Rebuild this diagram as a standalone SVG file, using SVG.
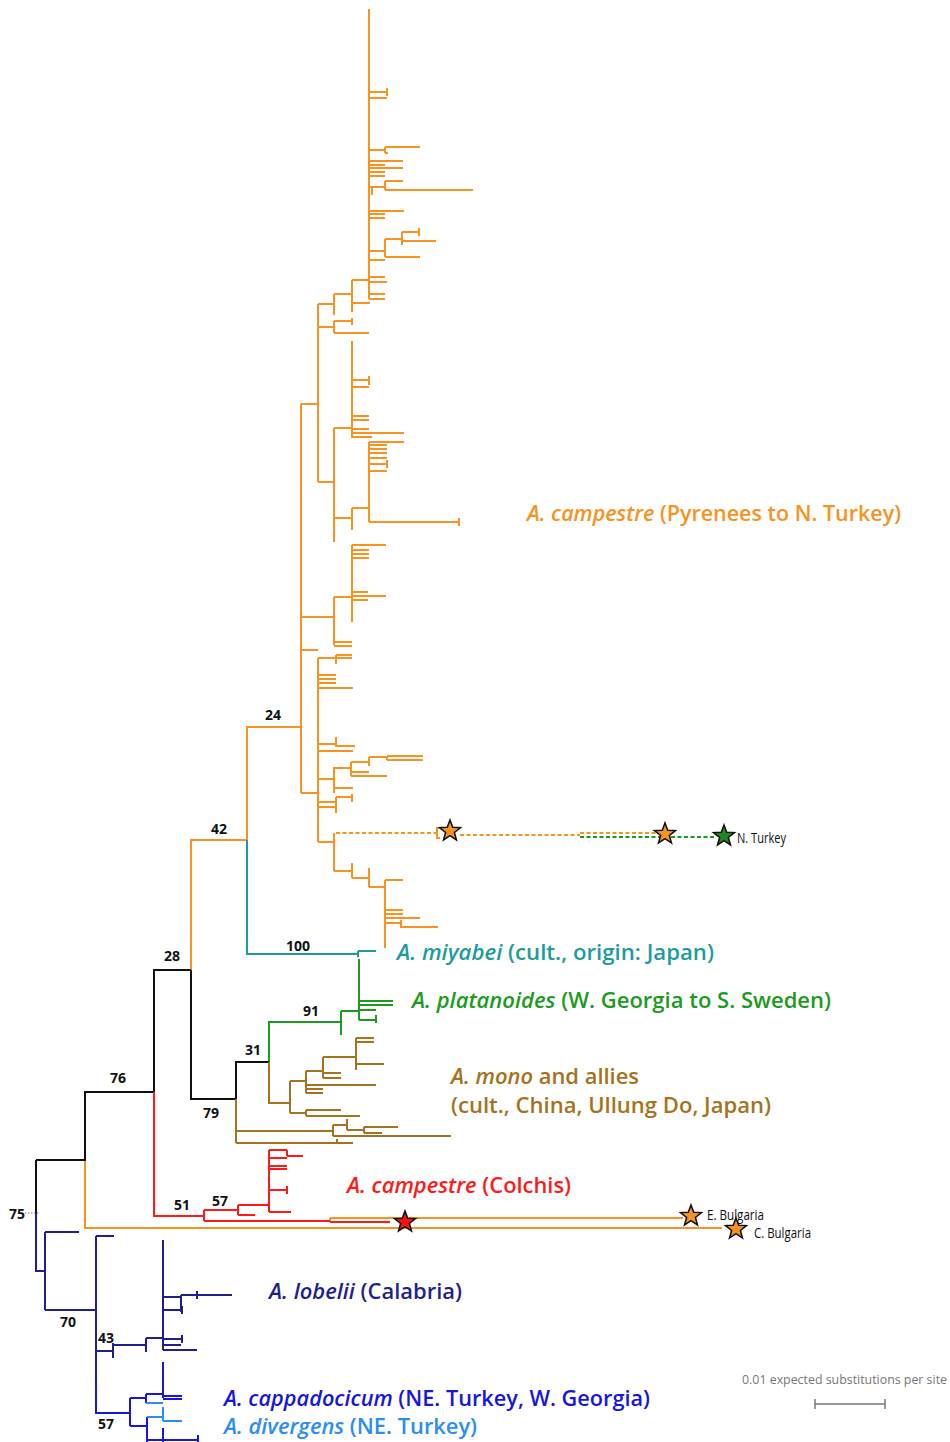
<svg xmlns="http://www.w3.org/2000/svg" xmlns:xlink="http://www.w3.org/1999/xlink" width="950" height="1442" viewBox="0 0 950 1442">
<style>
.br{fill:none;stroke-width:2;stroke-linecap:butt;stroke-linejoin:miter}
.o{stroke:#F7931E}.t{stroke:#1E9C9C}.g{stroke:#1E9A1E}.k{stroke:#111}.b{stroke:#A57320}.r{stroke:#FF1A1A}.n{stroke:#1F1F8E}.bl{stroke:#1616E0}.lb{stroke:#2A8EF2}
.dash{stroke-dasharray:4 2.5}
.lab{font-family:"Open Sans","Liberation Sans",sans-serif;font-weight:600;font-size:22px}
.num{font-family:"Open Sans","Liberation Sans",sans-serif;font-weight:700;font-size:14px;fill:#111;text-anchor:middle}
.sm{font-family:"Open Sans","Liberation Sans",sans-serif;font-size:14px;fill:#111}
.star{stroke:#111;stroke-width:1.4;stroke-linejoin:miter}
</style>
<defs>
<path id="star" d="M0,-10 L2.47,-3.4 L9.51,-3.09 L3.99,1.3 L5.88,8.09 L0,4.2 L-5.88,8.09 L-3.99,1.3 L-9.51,-3.09 L-2.47,-3.4 Z"/>
</defs>
<g id="connectors">
<path class="br o" d="M85,1160 V1228 H722 M330,1218 H683 M330,1218 V1222 M191,970 V840 H247 V727 H301 M301,404 V793 M301,404 H318 M318,304 V482 M318,304 H334 M334,294 V315 M334,294 H352 M352,280 V312 M352,280 H369 M352,303 H370 M369,9 V299 M369,92 H387 M387,88 V96 M369,98 H387 M369,150 H385 M385,147 V153 M385,147 H420 M385,153 H388 M369,161 H403 M369,165 H385 M369,168 H403 M369,172 H385 M369,176 H385 M369,187 H385 M372,187 V195 M385,181 V190 M385,181 H403 M385,190 H473 M369,211 H404 M369,214 H385 M369,218 H385 M369,251 H385 M385,239 V257 M385,239 H402 M402,232 V245 M402,232 H419 M419,228 V236 M402,241 H436 M385,257 H420 M369,260 H385 M369,277 H385 M369,282 H387 M369,294 H385 M369,299 H385 M318,327 H334 M334,321 V333 M334,321 H352 M352,318 V325 M334,333 H369 M318,482 H334 M334,428 V542 M334,428 H352 M352,341 V438 M352,380 H369 M369,376 V385 M352,387 H369 M352,416 H369 M352,420 H369 M352,429 H369 M352,433 H404 M352,437 H372 M334,518 H352 M352,508 V530 M352,508 H369 M369,442 V522 M369,442 H404 M369,445 H387 M369,449 H387 M369,453 H387 M369,458 H387 M369,464 H387 M387,460 V468 M369,471 H387 M369,522 H459 M459,518 V526 M301,617 H334 M334,597 V645 M334,597 H352 M352,545 V622 M352,545 H386 M352,550 H369 M352,554 H369 M352,558 H369 M352,592 H368 M352,596 H386 M352,600 H368 M334,642 H352 M334,646 H352 M301,650 H318 M301,793 H318 M318,658 V842 M318,658 H352 M336,655 V664 M336,655 H352 M318,675 H336 M318,679 H336 M318,683 H336 M318,688 H353 M318,744 H336 M336,737 V747 M336,746 H355 M318,751 H353 M318,779 H334 M334,767 V793 M334,768 H351 M351,762 V776 M351,762 H369 M369,757 V766 M369,757 H387 M387,756 V760 M387,756 H423 M387,760 H423 M351,772 H369 M351,776 H387 M334,788 H353 M318,802 H336 M336,797 V813 M336,797 H352 M352,794 V802 M318,807 H336 M318,842 H334 M334,833 V871 M334,871 H352 M352,863 V878 M352,878 H369 M369,868 V887 M369,887 H385 M385,880 V948 M385,880 H403 M385,910 H403 M385,914 H403 M385,918 H420 M385,923 H401 M401,920 V928 M401,927 H438 M440,828 H437 V838 H440"/>
<path class="br o dash" d="M336,833 H436 M460,835 H580 M580,833 H656" stroke-width="1.6"/>
<path class="br g dash" d="M580,837 H714" stroke-width="1.8"/>
<path class="br t" d="M247,840 V954 H358 M358,951 V957 M358,951 H376"/>
<path class="br g" d="M269,1062 V1022 H341 M341,1011 V1035 M341,1011 H359 M359,959 V1020 M359,1001 H393 M359,1005 H393 M359,1010 H376 M359,1020 H376 M376,1015 V1023"/>
<path class="br k" d="M36,1160 V1213 M36,1160 H85 V1092 H154 V970 H191 M191,970 V1099 H236 V1062 H269"/>
<path class="br b" d="M269,1062 V1103 H290 M290,1081 V1113 M290,1113 H306 M306,1110 V1116 M306,1110 H341 M306,1116 H360 M290,1081 H306 M306,1071 V1093 M306,1071 H323 M323,1057 V1078 M323,1057 H356 M356,1038 V1064 M356,1038 H374 M356,1042 H374 M356,1064 H384 M356,1064 V1070 M323,1073 H341 M323,1078 H341 M306,1085 H376 M306,1089 H323 M306,1093 H323 M236,1099 V1143 M236,1131 H333 M333,1125 V1136 M333,1125 H347 M347,1119 V1130 M347,1130 H364 M364,1127 V1133 M364,1127 H398 M364,1133 H382 M333,1136 H451 M236,1143 H353 M337,1139 V1143"/>
<path class="br r" d="M154,1092 V1216 H204 M204,1210 V1221 M204,1210 H238 M238,1205 V1215 M238,1205 H269 M238,1215 H255 M269,1150 V1212 M269,1150 H287 M287,1150 V1156 M287,1156 H303 M269,1158 H287 M269,1166 H287 M269,1169 H287 M269,1190 H287 M287,1186 V1194 M269,1212 H291 M204,1221 H330 M330,1222 H390"/>
<path class="br n" d="M36,1213 V1271 H45 M45,1232 V1310 M45,1232 H79 M45,1310 H96 M96,1236 V1382 M96,1236 H114 M96,1351 H113 M113,1343 V1358 M113,1345 H146 M146,1338 V1352 M146,1338 H163 M163,1240 V1350 M163,1297 H181 M181,1295 V1312 M181,1295 H232 M197,1291 V1299 M163,1310 H182 M182,1306 V1314 M163,1339 H182 M182,1335 V1343 M163,1345 H181 M163,1350 H197"/>
<path class="br bl" d="M96,1382 V1413 H130 M130,1398 V1426 M130,1398 H146 M146,1394 V1403 M146,1394 H163 M163,1362 V1398 M163,1396 H182 M163,1399 H182 M130,1426 H147 M147,1417 V1442 M147,1440 H163 M163,1428 V1442 M163,1440 H198 M198,1435 V1442"/>
<path class="br lb" d="M146,1403 H163 M147,1417 H163 M163,1407 V1421 M163,1421 H182"/>
<path d="M25,1213 H40" fill="none" stroke="#555" stroke-width="0.8" stroke-dasharray="1.5 1.5"/>
</g>
<g id="stars">
<use xlink:href="#star" class="star" fill="#F7931E" transform="translate(450,831) scale(1.1)"/>
<use xlink:href="#star" class="star" fill="#F7931E" transform="translate(665,834) scale(1.1)"/>
<use xlink:href="#star" class="star" fill="#1E8A1E" transform="translate(724,836) scale(1.1)"/>
<use xlink:href="#star" class="star" fill="#FF1010" transform="translate(405,1222) scale(1.1)"/>
<use xlink:href="#star" class="star" fill="#F7931E" transform="translate(691,1216) scale(1.1)"/>
<use xlink:href="#star" class="star" fill="#F7931E" transform="translate(736,1229) scale(1.1)"/>
</g>
<g id="support">
<text class="num" x="273" y="720">24</text>
<text class="num" x="219" y="834">42</text>
<text class="num" x="298" y="951">100</text>
<text class="num" x="172" y="961">28</text>
<text class="num" x="311" y="1016">91</text>
<text class="num" x="253" y="1055">31</text>
<text class="num" x="118" y="1083">76</text>
<text class="num" x="211" y="1118">79</text>
<text class="num" x="182" y="1210">51</text>
<text class="num" x="220" y="1206">57</text>
<text class="num" x="17" y="1219">75</text>
<text class="num" x="68" y="1327">70</text>
<text class="num" x="106" y="1343">43</text>
<text class="num" x="106" y="1429">57</text>
</g>
<g id="node-campestre-main"><text class="lab" x="527" y="521" fill="#F7931E" textLength="374" lengthAdjust="spacingAndGlyphs"><tspan font-style="italic">A. campestre</tspan> (Pyrenees to N. Turkey)</text></g>
<g id="node-miyabei"><text class="lab" x="397" y="960" fill="#1E9C9C" textLength="317" lengthAdjust="spacingAndGlyphs"><tspan font-style="italic">A. miyabei</tspan> (cult., origin: Japan)</text></g>
<g id="node-platanoides"><text class="lab" x="412" y="1008" fill="#1E9A1E" textLength="419" lengthAdjust="spacingAndGlyphs"><tspan font-style="italic">A. platanoides</tspan> (W. Georgia to S. Sweden)</text></g>
<g id="node-mono"><text class="lab" x="451" y="1084" fill="#A57320" textLength="188" lengthAdjust="spacingAndGlyphs"><tspan font-style="italic">A. mono</tspan> and allies</text>
<text class="lab" x="451" y="1113" fill="#A57320" textLength="320" lengthAdjust="spacingAndGlyphs">(cult., China, Ullung Do, Japan)</text></g>
<g id="node-colchis"><text class="lab" x="347" y="1193" fill="#FF1A1A" textLength="224" lengthAdjust="spacingAndGlyphs"><tspan font-style="italic">A. campestre</tspan> (Colchis)</text></g>
<g id="node-lobelii"><text class="lab" x="269" y="1299" fill="#1F1F8E" textLength="193" lengthAdjust="spacingAndGlyphs"><tspan font-style="italic">A. lobelii</tspan> (Calabria)</text></g>
<g id="node-cappadocicum"><text class="lab" x="224" y="1406" fill="#1616E0" textLength="426" lengthAdjust="spacingAndGlyphs"><tspan font-style="italic">A. cappadocicum</tspan> (NE. Turkey, W. Georgia)</text></g>
<g id="node-divergens"><text class="lab" x="224" y="1434" fill="#2A8EF2" textLength="253" lengthAdjust="spacingAndGlyphs"><tspan font-style="italic">A. divergens</tspan> (NE. Turkey)</text></g>
<g id="node-nturkey"><text class="sm" x="737" y="843" textLength="49" lengthAdjust="spacingAndGlyphs">N. Turkey</text></g>
<g id="node-ebulgaria"><text class="sm" x="707" y="1220" textLength="57" lengthAdjust="spacingAndGlyphs">E. Bulgaria</text></g>
<g id="node-cbulgaria"><text class="sm" x="754" y="1238" textLength="57" lengthAdjust="spacingAndGlyphs">C. Bulgaria</text></g>
<g id="scale">
<text x="742" y="1384" font-family="'Open Sans','Liberation Sans',sans-serif" font-size="12" fill="#777" textLength="205" lengthAdjust="spacingAndGlyphs">0.01 expected substitutions per site</text>
<path d="M815,1404 H885 M815,1399 V1409 M885,1399 V1409" fill="none" stroke="#777" stroke-width="1.5"/>
</g>
</svg>
